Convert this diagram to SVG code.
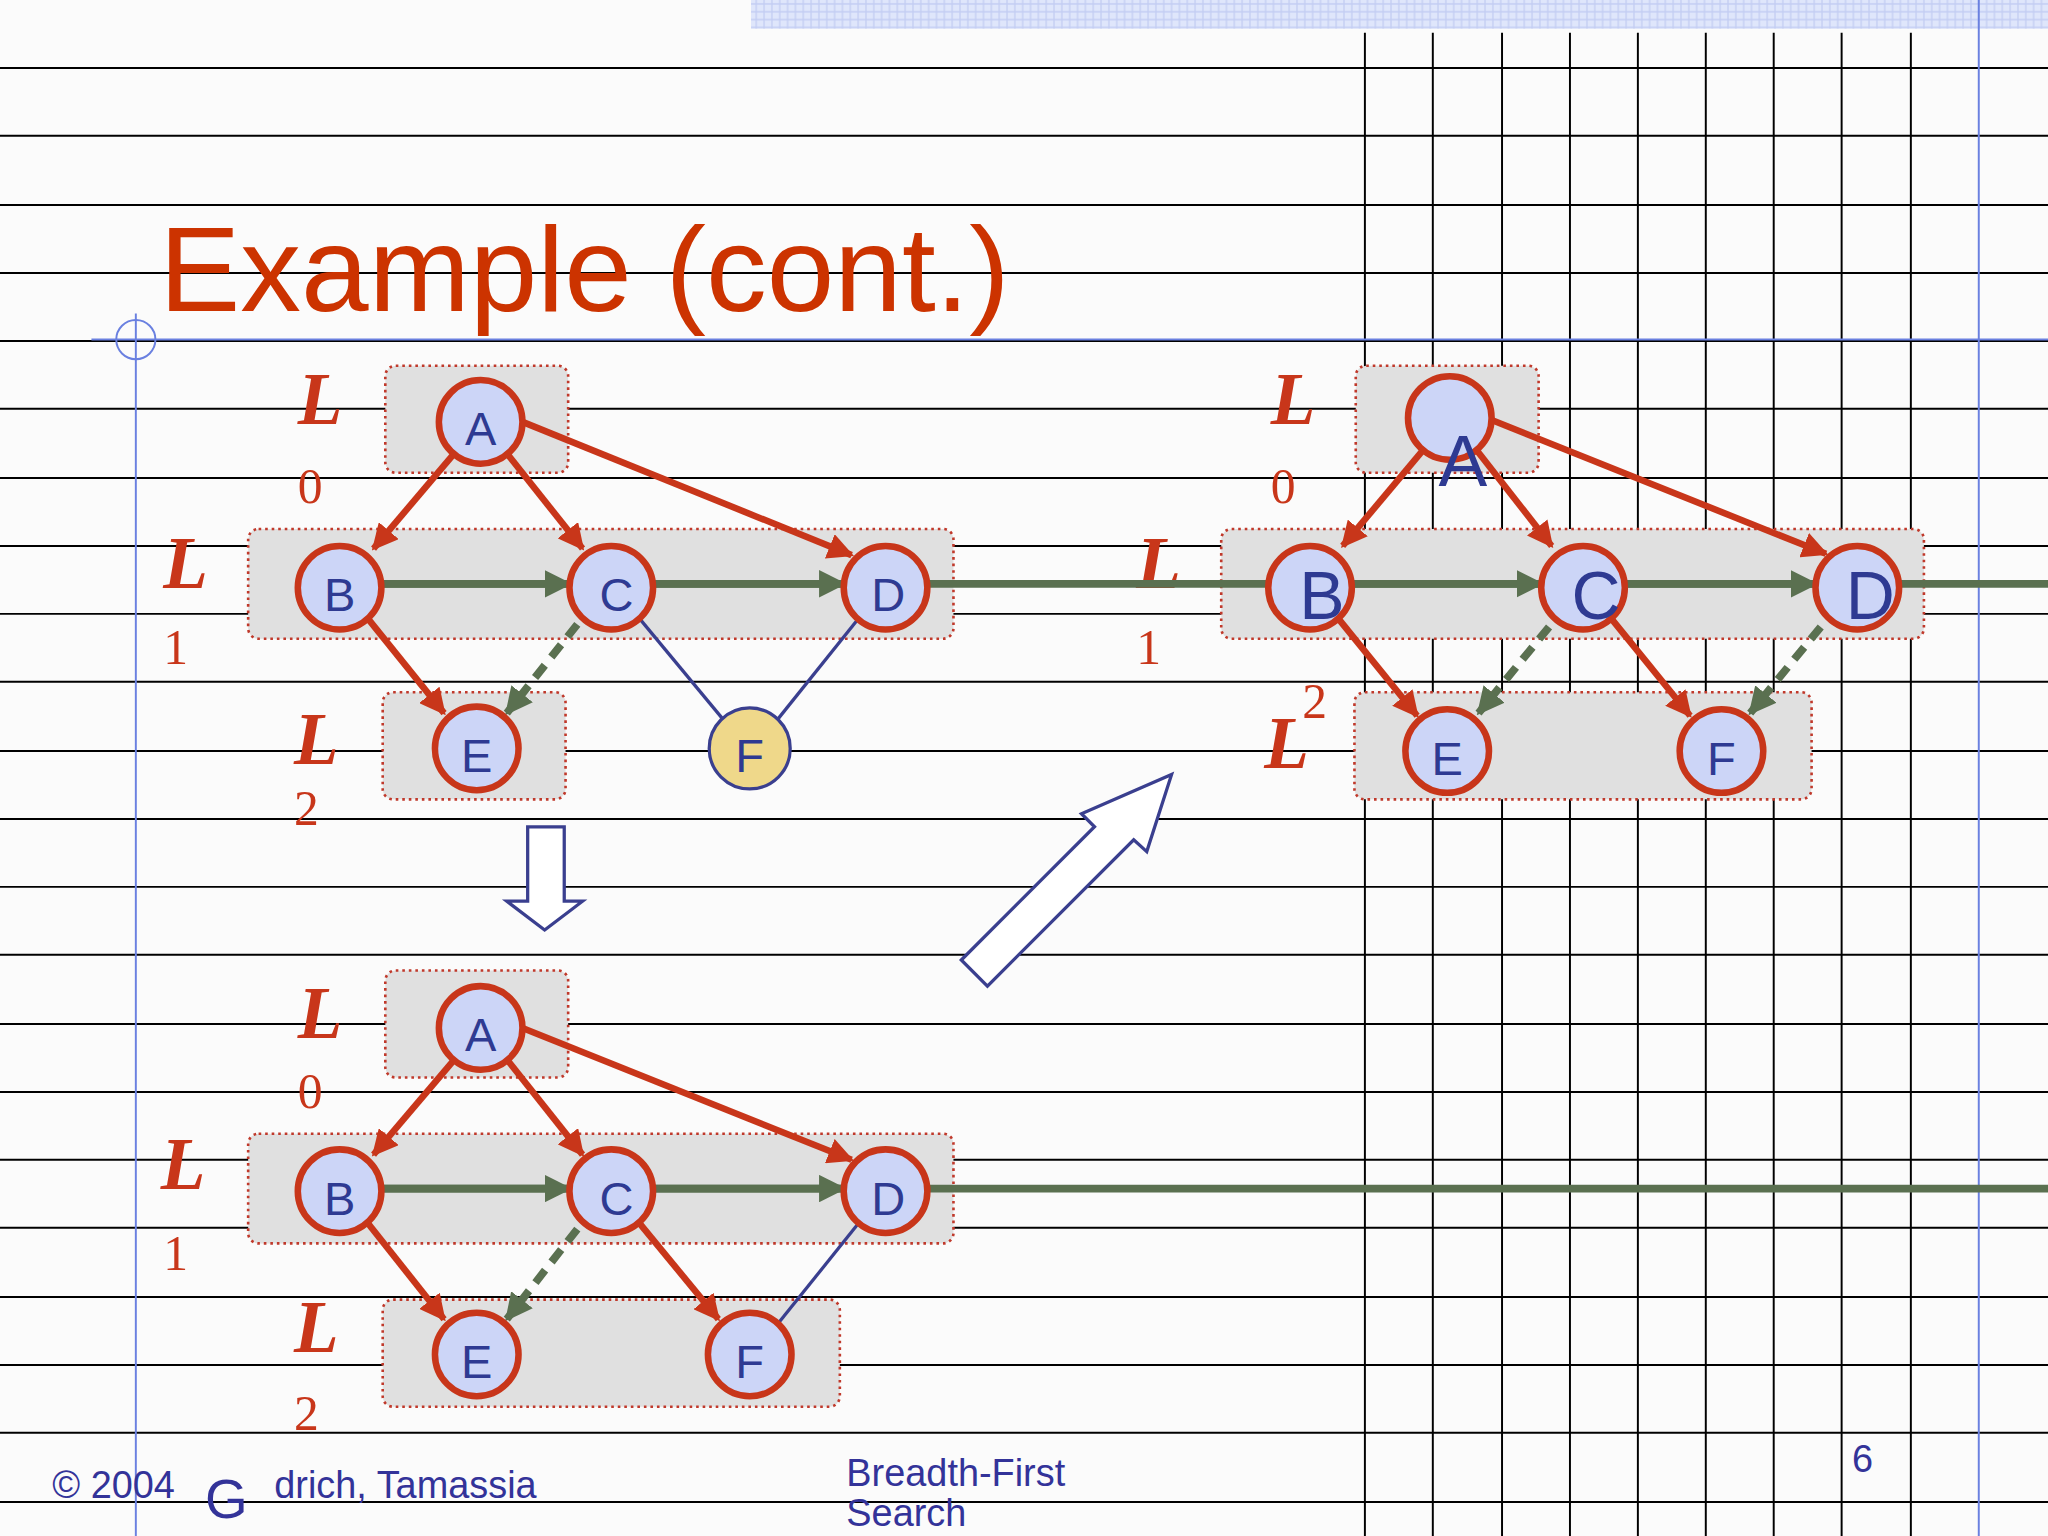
<svg xmlns="http://www.w3.org/2000/svg" width="2048" height="1536" viewBox="0 0 2048 1536">
<defs>
<marker id="ar" viewBox="0 0 10 10" refX="9" refY="5" markerWidth="4" markerHeight="4" orient="auto"><path d="M0,0L10,5L0,10z" fill="#c8361a"/></marker>
<marker id="ag" viewBox="0 0 10 10" refX="9" refY="5" markerWidth="3.5" markerHeight="3.5" orient="auto"><path d="M0,0L10,5L0,10z" fill="#5a7050"/></marker>
<pattern id="hatch" width="6" height="6" patternUnits="userSpaceOnUse"><rect width="6" height="6" fill="#dfe6fb"/><path d="M0,3H6M3,0V6" stroke="#c3cdf3" stroke-width="1"/></pattern>
</defs>
<style>
.grid line{stroke:#000;stroke-width:1.5}
.box{fill:#e0e0e0;stroke:#c0392b;stroke-width:2;stroke-dasharray:2 3}
.n circle{fill:#ccd5f7;stroke:#c8361a;stroke-width:5}
.n text{font-family:"Liberation Sans",Arial,sans-serif;font-size:36px;fill:#2e3a92;text-anchor:middle}
.red{stroke:#c8361a;stroke-width:5;fill:none;marker-end:url(#ar)}
.grn{stroke:#5a7050;stroke-width:6;fill:none}
.gra{stroke:#5a7050;stroke-width:6;fill:none;marker-end:url(#ag)}
.gd{stroke:#5a7050;stroke-width:6;fill:none;stroke-dasharray:12 8;marker-end:url(#ag)}
.bl{stroke:#3a3f8f;stroke-width:2.5;fill:none}
.L{font-family:"Liberation Serif",serif;font-style:italic;font-weight:bold;font-size:56px;fill:#c8361a}
.d{font-family:"Liberation Serif",serif;font-size:38px;fill:#c8361a}
.ft{font-family:"Liberation Sans",Arial,sans-serif;fill:#333399;font-size:29px}
</style>
<rect width="2048" height="1536" fill="#fbfbfb"/>
<g transform="scale(1.30612)">
<rect x="575" y="0" width="993" height="22" fill="url(#hatch)"/>
<g class="grid">
<line x1="0" y1="52" x2="1568" y2="52"/><line x1="0" y1="104" x2="1568" y2="104"/><line x1="0" y1="157" x2="1568" y2="157"/><line x1="0" y1="209" x2="1568" y2="209"/><line x1="0" y1="261" x2="1568" y2="261"/><line x1="0" y1="313" x2="1568" y2="313"/><line x1="0" y1="366" x2="1568" y2="366"/><line x1="0" y1="418" x2="1568" y2="418"/><line x1="0" y1="470" x2="1568" y2="470"/><line x1="0" y1="522" x2="1568" y2="522"/><line x1="0" y1="575" x2="1568" y2="575"/><line x1="0" y1="627" x2="1568" y2="627"/><line x1="0" y1="679" x2="1568" y2="679"/><line x1="0" y1="731" x2="1568" y2="731"/><line x1="0" y1="784" x2="1568" y2="784"/><line x1="0" y1="836" x2="1568" y2="836"/><line x1="0" y1="888" x2="1568" y2="888"/><line x1="0" y1="940" x2="1568" y2="940"/><line x1="0" y1="993" x2="1568" y2="993"/><line x1="0" y1="1045" x2="1568" y2="1045"/><line x1="0" y1="1097" x2="1568" y2="1097"/><line x1="0" y1="1150" x2="1568" y2="1150"/>
<line x1="1045" y1="25" x2="1045" y2="1176"/><line x1="1097" y1="25" x2="1097" y2="1176"/><line x1="1150" y1="25" x2="1150" y2="1176"/><line x1="1202" y1="25" x2="1202" y2="1176"/><line x1="1254" y1="25" x2="1254" y2="1176"/><line x1="1306" y1="25" x2="1306" y2="1176"/><line x1="1358" y1="25" x2="1358" y2="1176"/><line x1="1410" y1="25" x2="1410" y2="1176"/><line x1="1463" y1="25" x2="1463" y2="1176"/>
</g>
<line x1="104" y1="240" x2="104" y2="1176" stroke="#6a80e0" stroke-width="1.5"/>
<line x1="1515" y1="0" x2="1515" y2="1176" stroke="#6a80e0" stroke-width="1.5"/>
<line x1="70" y1="260" x2="1568" y2="260" stroke="#6a80e0" stroke-width="1.5"/>
<circle cx="104" cy="260" r="15" fill="none" stroke="#6a80e0" stroke-width="1.5"/>
<text x="122" y="238" font-family="'Liberation Sans',Arial,sans-serif" font-size="93" fill="#cc3300">Example (cont.)</text>

<rect class="box" x="295" y="280" width="140" height="82" rx="8"/>
<rect class="box" x="190" y="405" width="540" height="84" rx="8"/>
<rect class="box" x="293" y="530" width="140" height="82" rx="8"/>
<rect class="box" x="295" y="743" width="140" height="82" rx="8"/>
<rect class="box" x="190" y="868" width="540" height="84" rx="8"/>
<rect class="box" x="293" y="995" width="350" height="82" rx="8"/>
<rect class="box" x="1038" y="280" width="140" height="82" rx="8"/>
<rect class="box" x="935" y="405" width="538" height="84" rx="8"/>
<rect class="box" x="1037" y="530" width="350" height="82" rx="8"/>

<text class="L" x="228" y="325">L</text><text class="d" x="228" y="385">0</text>
<text class="L" x="125" y="450">L</text><text class="d" x="125" y="508">1</text>
<text class="L" x="225" y="585">L</text><text class="d" x="225" y="632">2</text>
<text class="L" x="228" y="795">L</text><text class="d" x="228" y="848">0</text>
<text class="L" x="123" y="910">L</text><text class="d" x="125" y="972">1</text>
<text class="L" x="225" y="1035">L</text><text class="d" x="225" y="1095">2</text>
<text class="L" x="973" y="325">L</text><text class="d" x="973" y="385">0</text>
<text class="L" x="870" y="450">L</text><text class="d" x="870" y="508">1</text>
<text class="L" x="968" y="588">L</text><text class="d" x="997" y="550" font-size="24">2</text>

<g id="connectors">
<line class="red" x1="348" y1="347" x2="286" y2="420"/>
<line class="red" x1="388" y1="347" x2="446" y2="420"/>
<line class="red" x1="400" y1="323" x2="652" y2="425"/>
<line class="grn" x1="292" y1="447" x2="1568" y2="447"/>
<line class="gra" x1="292" y1="447" x2="436" y2="447"/>
<line class="gra" x1="500" y1="447" x2="646" y2="447"/>
<line class="red" x1="282" y1="474" x2="340" y2="546"/>
<line class="gd" x1="442" y1="478" x2="388" y2="546"/>
<line class="bl" x1="490" y1="474" x2="553" y2="550"/>
<line class="bl" x1="657" y1="474" x2="596" y2="550"/>
<line class="red" x1="348" y1="811" x2="286" y2="884"/>
<line class="red" x1="388" y1="811" x2="446" y2="884"/>
<line class="red" x1="400" y1="787" x2="652" y2="888"/>
<line class="grn" x1="292" y1="910" x2="1568" y2="910"/>
<line class="gra" x1="292" y1="910" x2="436" y2="910"/>
<line class="gra" x1="500" y1="910" x2="646" y2="910"/>
<line class="red" x1="282" y1="937" x2="340" y2="1010"/>
<line class="gd" x1="442" y1="941" x2="388" y2="1010"/>
<line class="red" x1="490" y1="937" x2="550" y2="1010"/>
<line class="bl" x1="657" y1="937" x2="596" y2="1013"/>
<line class="red" x1="1090" y1="344" x2="1028" y2="418"/>
<line class="red" x1="1130" y1="344" x2="1188" y2="418"/>
<line class="red" x1="1143" y1="322" x2="1398" y2="424"/>
<line class="gra" x1="1035" y1="447" x2="1180" y2="447"/>
<line class="gra" x1="1244" y1="447" x2="1390" y2="447"/>
<line class="red" x1="1025" y1="474" x2="1085" y2="548"/>
<line class="gd" x1="1186" y1="480" x2="1132" y2="546"/>
<line class="red" x1="1234" y1="474" x2="1294" y2="548"/>
<line class="gd" x1="1394" y1="480" x2="1340" y2="546"/>
</g>

<g id="g1A" class="n"><circle cx="368" cy="323" r="32"/><text x="368" y="341">A</text></g>
<g id="g1B" class="n"><circle cx="260" cy="450" r="32"/><text x="260" y="468">B</text></g>
<g id="g1C" class="n"><circle cx="468" cy="450" r="32"/><text x="472" y="468">C</text></g>
<g id="g1D" class="n"><circle cx="678" cy="450" r="32"/><text x="680" y="468">D</text></g>
<g id="g1E" class="n"><circle cx="365" cy="573" r="32"/><text x="365" y="591">E</text></g>
<g id="g1F" class="n"><circle cx="574" cy="573" r="31" style="fill:#efd88a;stroke:#3a3f8f;stroke-width:2.5"/><text x="574" y="591">F</text></g>

<g id="g2A" class="n"><circle cx="368" cy="787" r="32"/><text x="368" y="805">A</text></g>
<g id="g2B" class="n"><circle cx="260" cy="912" r="32"/><text x="260" y="930">B</text></g>
<g id="g2C" class="n"><circle cx="468" cy="912" r="32"/><text x="472" y="930">C</text></g>
<g id="g2D" class="n"><circle cx="678" cy="912" r="32"/><text x="680" y="930">D</text></g>
<g id="g2E" class="n"><circle cx="365" cy="1037" r="32"/><text x="365" y="1055">E</text></g>
<g id="g2F" class="n"><circle cx="574" cy="1037" r="32"/><text x="574" y="1055">F</text></g>

<g id="g3A" class="n"><circle cx="1110" cy="320" r="32"/><text x="1120" y="372" style="font-size:56px">A</text></g>
<g id="g3B" class="n"><circle cx="1003" cy="450" r="32"/><text x="1012" y="474" style="font-size:52px">B</text></g>
<g id="g3C" class="n"><circle cx="1212" cy="450" r="32"/><text x="1222" y="474" style="font-size:52px">C</text></g>
<g id="g3D" class="n"><circle cx="1422" cy="450" r="32"/><text x="1432" y="474" style="font-size:52px">D</text></g>
<g id="g3E" class="n"><circle cx="1108" cy="575" r="32"/><text x="1108" y="593">E</text></g>
<g id="g3F" class="n"><circle cx="1318" cy="575" r="32"/><text x="1318" y="593">F</text></g>

<path d="M404,633H432V690H446L417,712L388,690H404Z" fill="#fff" stroke="#3a3f8f" stroke-width="2.5"/>
<path d="M736,735L838,633L828,623L897,593L878,652L868,643L756,755Z" fill="#fff" stroke="#3a3f8f" stroke-width="2.5"/>

<text class="ft" x="40" y="1147">© 2004</text>
<text class="ft" x="157" y="1162" style="font-size:42px">G</text>
<text class="ft" x="210" y="1147">drich, Tamassia</text>
<text class="ft" x="648" y="1138">Breadth-First</text>
<text class="ft" x="648" y="1168">Search</text>
<text class="ft" x="1418" y="1127">6</text>
</g>
</svg>
